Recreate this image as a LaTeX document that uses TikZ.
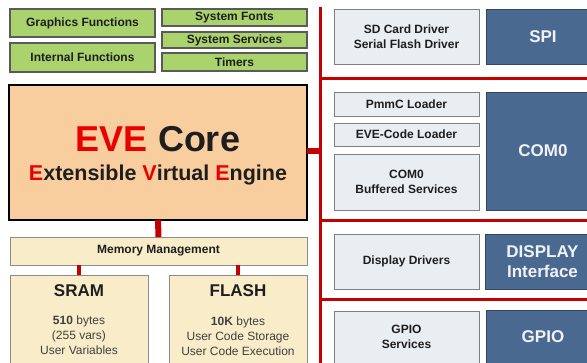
\documentclass[tikz,border=0pt]{standalone}
\usepackage{fontspec}
\setmainfont{Liberation Sans}
\definecolor{gfill}{RGB}{170,211,110}
\definecolor{gdraw}{RGB}{90,90,90}
\definecolor{evefill}{RGB}{249,206,159}
\definecolor{cream}{RGB}{248,237,200}
\definecolor{creamdraw}{RGB}{140,140,140}
\definecolor{lfill}{RGB}{233,238,243}
\definecolor{ldraw}{RGB}{127,127,127}
\definecolor{bfill}{RGB}{74,105,145}
\definecolor{bdraw}{RGB}{50,70,95}
\definecolor{btext}{RGB}{240,242,246}
\definecolor{busred}{RGB}{196,0,0}
\definecolor{txt}{RGB}{30,30,30}
\definecolor{everred}{RGB}{235,0,0}
\tikzset{
  box/.style={rectangle, inner sep=0pt, outer sep=0pt, text=txt, align=center,
    font=\fontsize{12}{14.5}\selectfont\bfseries},
  gbox/.style={box, fill=gfill, draw=gdraw, line width=1.1pt},
  lbox/.style={box, fill=lfill, draw=ldraw, line width=1pt},
  mbox/.style={box, fill=cream, draw=creamdraw, line width=1pt},
  bbox/.style={box, fill=bfill, draw=bdraw, line width=1pt, text=btext,
    font=\fontsize{17}{20}\selectfont\bfseries},
  evebox/.style={box, fill=evefill, draw=black, line width=2pt},
  bus/.style={draw=busred, line width=3pt},
  thickstub/.style={draw=busred, line width=6pt},
  thinstub/.style={draw=busred, line width=3.5pt},
  plain/.style={inner sep=0pt, outer sep=0pt, text=txt, align=center},
}
\begin{document}
\begin{tikzpicture}[x=1pt,y=-1pt]
\useasboundingbox (0,0) rectangle (587,362);
\clip (0,0) rectangle (587,362);
% left top green boxes
\node[gbox, minimum width=145pt, minimum height=28pt] (gf) at (82.5,23) {Graphics Functions};
\node[gbox, minimum width=145pt, minimum height=29pt] (inf) at (82.5,57.5) {Internal Functions};
\node[gbox, minimum width=145pt, minimum height=17pt] (sf) at (234.5,17.5) {System Fonts};
\node[gbox, minimum width=145pt, minimum height=16pt] (ss) at (234.5,40) {System Services};
\node[gbox, minimum width=145pt, minimum height=18pt] (tm) at (234.5,62) {Timers};
% EVE core
\node[evebox, minimum width=298pt, minimum height=135pt] (eve) at (158,152.5) {};
\node[plain, font=\fontsize{36}{40}\selectfont\bfseries] (evet1) at (158,139)
  {\textcolor{everred}{EVE} Core};
\node[plain, font=\fontsize{21.5}{25}\selectfont\bfseries] (evet2) at (158,175)
  {\textcolor{everred}{E}xtensible \textcolor{everred}{V}irtual \textcolor{everred}{E}ngine};
% memory
\node[mbox, minimum width=297pt, minimum height=28pt] (mm) at (158.5,251) {Memory Management};
\node[mbox, minimum width=138pt, minimum height=100pt] (sram) at (79,325) {};
\node[mbox, minimum width=138pt, minimum height=100pt] (flash) at (238,325) {};
\node[plain, font=\fontsize{17}{20}\selectfont\bfseries] (sramt) at (79,291) {SRAM};
\node[plain, font=\fontsize{17}{20}\selectfont\bfseries] (flasht) at (238,291) {FLASH};
\node[plain, anchor=north, font=\fontsize{12}{14.7}\selectfont, text=txt!85] (sramb) at (79,316)
  {\textbf{510} bytes\\(255 vars)\\User Variables};
\node[plain, anchor=north, font=\fontsize{12}{14.7}\selectfont, text=txt!85] (flashb) at (238,317)
  {\textbf{10K} bytes\\User Code Storage\\User Code Execution};
% right side
\node[lbox, minimum width=145pt, minimum height=55pt] (sd) at (406.5,36.5) {SD Card Driver\\Serial Flash Driver};
\node[bbox, minimum width=114pt, minimum height=55pt] (spi) at (543,36.5) {SPI};
\node[lbox, minimum width=145pt, minimum height=24pt] (pmmc) at (406.5,104) {PmmC Loader};
\node[lbox, minimum width=145pt, minimum height=23pt] (evec) at (406.5,134.5) {EVE-Code Loader};
\node[lbox, minimum width=145pt, minimum height=56pt] (cbuf) at (406.5,182) {COM0\\Buffered Services};
\node[bbox, minimum width=114pt, minimum height=118pt] (com0) at (543,151) {COM0};
\node[lbox, minimum width=145pt, minimum height=55pt] (dd) at (406.5,261.5) {Display Drivers};
\node[bbox, minimum width=115pt, minimum height=55pt] (disp) at (542.5,261.5) {DISPLAY\\Interface};
\node[lbox, minimum width=145pt, minimum height=52pt] (gpios) at (406.5,337) {GPIO\\Services};
\node[bbox, minimum width=114pt, minimum height=53pt] (gpio) at (543,336.5) {GPIO};
% bus
\coordinate (bustop) at (320.5,7);
\coordinate (busbot) at (320.5,370);
\coordinate (h1) at (320.5,78);
\coordinate (h2) at (320.5,220);
\coordinate (h3) at (320.5,299);
\coordinate (h1e) at (600,78);
\coordinate (h2e) at (600,220);
\coordinate (h3e) at (600,299);
\draw[bus] (bustop) -- (busbot);
\draw[bus] (h1) -- (h1e);
\draw[bus] (h2) -- (h2e);
\draw[bus] (h3) -- (h3e);
\draw[thickstub] ([yshift=2pt]eve.east) -- ([yshift=2pt]eve.east -| bustop);
\draw[thickstub] (eve.south) -- (mm.north);
\draw[thinstub] (sram.north |- mm.south) -- (sram.north);
\draw[thinstub] (flash.north |- mm.south) -- (flash.north);
\end{tikzpicture}
\end{document}
